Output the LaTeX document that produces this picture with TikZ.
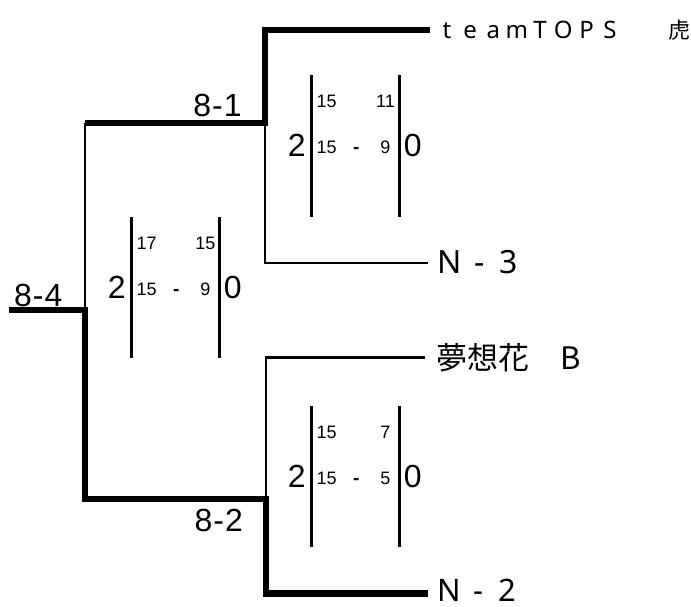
\documentclass[tikz,border=0pt]{standalone}
\usepackage{fontspec}
\setmainfont{Liberation Sans}
\newfontfamily\numfont{Liberation Sans}
\newfontfamily\rndfont[LetterSpace=3]{Liberation Sans}
\newfontfamily\jpfont{Noto Sans CJK JP}
\newfontfamily\latfont{Noto Sans}
\newcommand\mono[1]{\makebox[23.3pt][c]{#1}}
\newcommand\scoreblock[8]{%
  \draw[bar] (#2,#4) -- (#2,#4+141.5);
  \draw[bar] (#3,#4) -- (#3,#4+141.5);
  \node[bigd] (#1w) at (#2-15,#4+81.5) {2};
  \node[bigd] (#1l) at (#3+13.5,#4+81.5) {0};
  \node[smalld] (#1a) at (#2+15,#4+32.5) {#5};
  \node[smalld] (#1b) at (#3-13.8,#4+32.5) {#6};
  \node[smalld] (#1c) at (#2+15,#4+78.3) {#7};
  \node[smalld, font=\numfont\bfseries\fontsize{19}{20}\selectfont] (#1d) at (#2+44.5,#4+78.3) {-};
  \node[smalld] (#1e) at (#3-13.8,#4+78.3) {#8};
}
\begin{document}
\begin{tikzpicture}[x=1pt,y=-1pt,
  win/.style={line width=6.5pt},
  lose/.style={line width=2.5pt},
  bar/.style={line width=2.7pt},
  bigd/.style={font=\numfont\fontsize{32}{34}\selectfont, inner sep=0pt, anchor=base},
  smalld/.style={font=\numfont\fontsize{18}{20}\selectfont, inner sep=0pt, anchor=base},
  rnd/.style={font=\rndfont\fontsize{32}{34}\selectfont, inner sep=0pt, anchor=base},
  teamlbl/.style={anchor=west, inner sep=0pt, text depth=0pt},
]
\useasboundingbox (0,0) rectangle (691,606);

% team labels
\node[teamlbl, text height=16.6pt, font=\latfont\fontsize{24}{26}\selectfont] (t1) at (435,30)
  {\mono{t}\mono{e}\mono{a}\mono{m}\mono{T}\mono{O}\mono{P}\mono{S}\hspace{47pt}{\jpfont\fontsize{22}{24}\selectfont 虎}};
\node[teamlbl, text height=21pt, font=\latfont\fontsize{32}{34}\selectfont] (t2) at (437,263) {N\hspace{13pt}-\hspace{15pt}3};
\node[teamlbl, text height=23.6pt, font=\jpfont\fontsize{31}{33}\selectfont] (t3) at (436,357.7) {夢想花　B};
\node[teamlbl, text height=15pt, font=\latfont\fontsize{31}{33}\selectfont] (t4) at (437,593.5) {N\hspace{13pt}-\hspace{15pt}2};

% junctions
\coordinate (s1) at (265,123);
\coordinate (s2) at (266,499);
\coordinate (f) at (85,310);
\coordinate (c) at (9,310);

% bracket lines
\draw[win, shorten <=5pt] (t1.west) -| (s1) -- (s1 -| f);
\draw[lose] (s1 -| f) -- (f);
\draw[lose, shorten <=9pt] (t2.west) -| (s1);
\draw[win, shorten >=9pt] (c) -- (f) |- (s2) |- (t4.west);
\draw[lose, shorten <=11pt] (t3.west) -| (s2);

% round labels
\node[rnd] (r1) at (217.5,116.5) {8-1};
\node[rnd] (r2) at (218.8,531.5) {8-2};
\node[rnd] (r4) at (38.3,306.5) {8-4};

% score blocks
\scoreblock{m1}{311.7}{399.3}{75}{15}{11}{15}{9}
\scoreblock{m2}{311.7}{399.3}{405.7}{15}{7}{15}{5}
\scoreblock{m3}{131.7}{219.3}{216.7}{17}{15}{15}{9}
\end{tikzpicture}
\end{document}
